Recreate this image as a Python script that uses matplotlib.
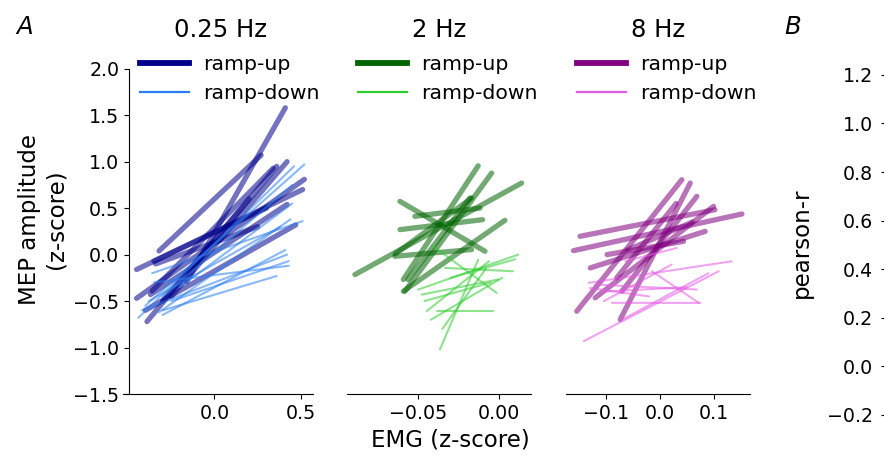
import matplotlib
matplotlib.use("Agg")
import matplotlib.pyplot as plt

# regression lines per subject: (x0, y0, x1, y1)
up_025 = [
    (-0.16, -0.29, 0.41, 1.58), (-0.32, 0.04, 0.27, 1.07), (-0.45, -0.16, 0.30, 0.50),
    (-0.45, -0.47, 0.52, 0.81), (-0.39, -0.72, 0.36, 0.95), (-0.35, -0.07, 0.51, 0.70),
    (-0.36, -0.39, 0.34, 0.93), (-0.37, -0.43, 0.42, 0.54), (-0.40, -0.60, 0.47, 0.32),
    (-0.25, -0.45, 0.42, 1.00), (-0.30, -0.50, 0.20, 0.60), (-0.34, -0.10, 0.25, 0.30),
]
down_025 = [
    (-0.44, -0.68, 0.46, 0.95), (-0.40, -0.55, 0.52, 0.97), (-0.30, -0.45, 0.45, 0.75),
    (-0.36, -0.20, 0.51, 0.36), (-0.32, -0.62, 0.44, 0.38), (-0.30, -0.65, 0.41, 0.05),
    (-0.42, -0.60, 0.42, 0.00), (-0.25, -0.50, 0.43, -0.07), (-0.35, -0.30, 0.43, -0.12),
    (-0.30, -0.60, 0.36, -0.23), (-0.38, -0.50, 0.38, 0.30), (-0.20, -0.35, 0.45, 0.55),
]
up_2 = [
    (-0.0889, -0.215, 0.014, 0.770), (-0.059, -0.268, -0.0128, 0.956),
    (-0.058, -0.394, -0.0045, 0.877), (-0.0611, 0.573, -0.0086, 0.036),
    (-0.0611, 0.269, -0.0101, 0.376), (-0.059, -0.394, 0.0037, 0.369),
    (-0.0519, 0.412, -0.0117, 0.501), (-0.0642, -0.018, -0.0169, 0.054),
    (-0.064, 0.007, -0.0169, 0.609), (-0.0562, -0.268, -0.0179, 0.609),
]
down_2 = [
    (-0.0364, -1.02, -0.0128, -0.054), (-0.0498, -0.376, 0.0119, 0.0),
    (-0.0477, -0.430, -0.0004, -0.268), (-0.0446, -0.609, -0.0062, -0.072),
    (-0.0385, -0.609, -0.0035, -0.609), (-0.0333, -0.143, 0.0086, -0.179),
    (-0.0405, 0.089, -0.0014, -0.412), (-0.042, -0.70, 0.002, -0.25),
    (-0.030, -0.25, 0.010, -0.05), (-0.046, -0.50, -0.005, -0.30),
    (-0.035, -0.80, -0.008, -0.15),
]
up_8 = [
    (-0.154, -0.609, 0.0407, 0.806), (-0.0735, -0.698, 0.0562, 0.770),
    (-0.0704, -0.394, 0.0685, 0.627), (-0.12, -0.465, 0.0994, 0.519),
    (-0.160, 0.043, 0.152, 0.437), (-0.148, 0.197, 0.102, 0.483),
    (-0.129, -0.143, 0.0839, 0.25), (-0.098, 0.0, 0.0438, 0.143),
    (-0.08, -0.25, 0.03, 0.55), (-0.06, 0.05, 0.06, 0.35),
]
down_8 = [
    (-0.141, -0.931, 0.109, -0.179), (-0.132, -0.304, 0.133, -0.072),
    (-0.104, -0.501, 0.022, -0.107), (-0.12, -0.322, 0.0685, -0.376),
    (-0.089, -0.519, 0.075, -0.52), (-0.0148, -0.179, 0.0722, -0.519),
    (-0.064, -0.072, 0.0315, 0.072), (-0.07, -0.70, 0.09, -0.20),
    (-0.11, -0.40, 0.05, -0.35), (-0.13, -0.36, -0.02, -0.45),
]

titles = ["0.25 Hz", "2 Hz", "8 Hz"]
up_colors = ["#00008b", "#006400", "#800080"]
down_colors = ["#2a7ff0", "#2ecc2e", "#e45ae4"]
xlims = [(-0.494, 0.57), (-0.0938, 0.0198), (-0.174, 0.167)]
xticks = [[0.0, 0.5], [-0.05, 0.0], [-0.1, 0.0, 0.1]]
xticklabels = [["0.0", "0.5"], ["\u22120.05", "0.00"], ["\u22120.1", "0.0", "0.1"]]
yticks = [-1.5, -1.0, -0.5, 0.0, 0.5, 1.0, 1.5, 2.0]
r_ticks = [-0.2, 0.0, 0.2, 0.4, 0.6, 0.8, 1.0, 1.2]

W, H = 884, 458
fig = plt.figure(figsize=(W / 100, H / 100), dpi=100)
plt.rcParams["font.family"] = "DejaVu Sans"

lefts = [129, 347, 566]
top, bottom = 45, 394
ylim = (-1.5, (255 - top) / 93.1)

groups = [(up_025, down_025), (up_2, down_2), (up_8, down_8)]
for i, (ups, downs) in enumerate(groups):
    ax = fig.add_axes([lefts[i] / W, (H - bottom) / H, 184 / W, (bottom - top) / H])
    for x0, y0, x1, y1 in ups:
        ax.plot([x0, x1], [y0, y1], color=up_colors[i], lw=3.8, alpha=0.55,
                solid_capstyle="round")
    for x0, y0, x1, y1 in downs:
        ax.plot([x0, x1], [y0, y1], color=down_colors[i], lw=1.5, alpha=0.55,
                solid_capstyle="round")
    h1, = ax.plot([], [], color=up_colors[i], lw=4.2, label="ramp-up")
    h2, = ax.plot([], [], color=down_colors[i], lw=1.6, label="ramp-down")
    ax.legend(handles=[h1, h2], loc="upper left", bbox_to_anchor=(0.06, 0.97),
              frameon=False, fontsize=14.7, handlelength=2.4, handletextpad=0.7,
              borderpad=0, borderaxespad=0, labelspacing=0.45)
    ax.set_xlim(xlims[i])
    ax.set_ylim(ylim)
    ax.set_xticks(xticks[i])
    ax.set_xticklabels(xticklabels[i])
    ax.set_title(titles[i], fontsize=17.6, pad=6)
    ax.spines["top"].set_visible(False)
    ax.spines["right"].set_visible(False)
    ax.tick_params(labelsize=13.7)
    if i == 0:
        ax.set_yticks(yticks)
        ax.spines["left"].set_bounds(-1.5, 2.0)
        ax.spines["bottom"].set_bounds(xlims[0][0] - 6 / 172, xlims[0][1])
        ax.set_ylabel("MEP amplitude\n(z-score)", fontsize=16.5)
    else:
        ax.spines["left"].set_visible(False)
        ax.set_yticks([])

fig.text(450 / W, 1 - 440 / H, "EMG (z-score)", ha="center", va="center", fontsize=16.5)

# panel B (mostly outside the figure)
axb = fig.add_axes([886 / W, (H - 420) / H, 0.3, (420 - 65) / H])
axb.set_ylim((366.4 - 420) / 243, (366.4 - 65) / 243)
axb.set_yticks(r_ticks)
axb.set_yticklabels(["\u22120.2", "0.0", "0.2", "0.4", "0.6", "0.8", "1.0", "1.2"])
axb.tick_params(labelsize=13.7, pad=6)
axb.set_xticks([])
axb.set_ylabel("pearson-r", fontsize=16.5, labelpad=10)
for s in ["top", "right", "bottom"]:
    axb.spines[s].set_visible(False)

fig.text(25 / W, 1 - 27 / H, "A", ha="center", va="center", fontsize=17.6, style="italic")
fig.text(793 / W, 1 - 27 / H, "B", ha="center", va="center", fontsize=17.6, style="italic")

fig.savefig("out.png", dpi=100)
